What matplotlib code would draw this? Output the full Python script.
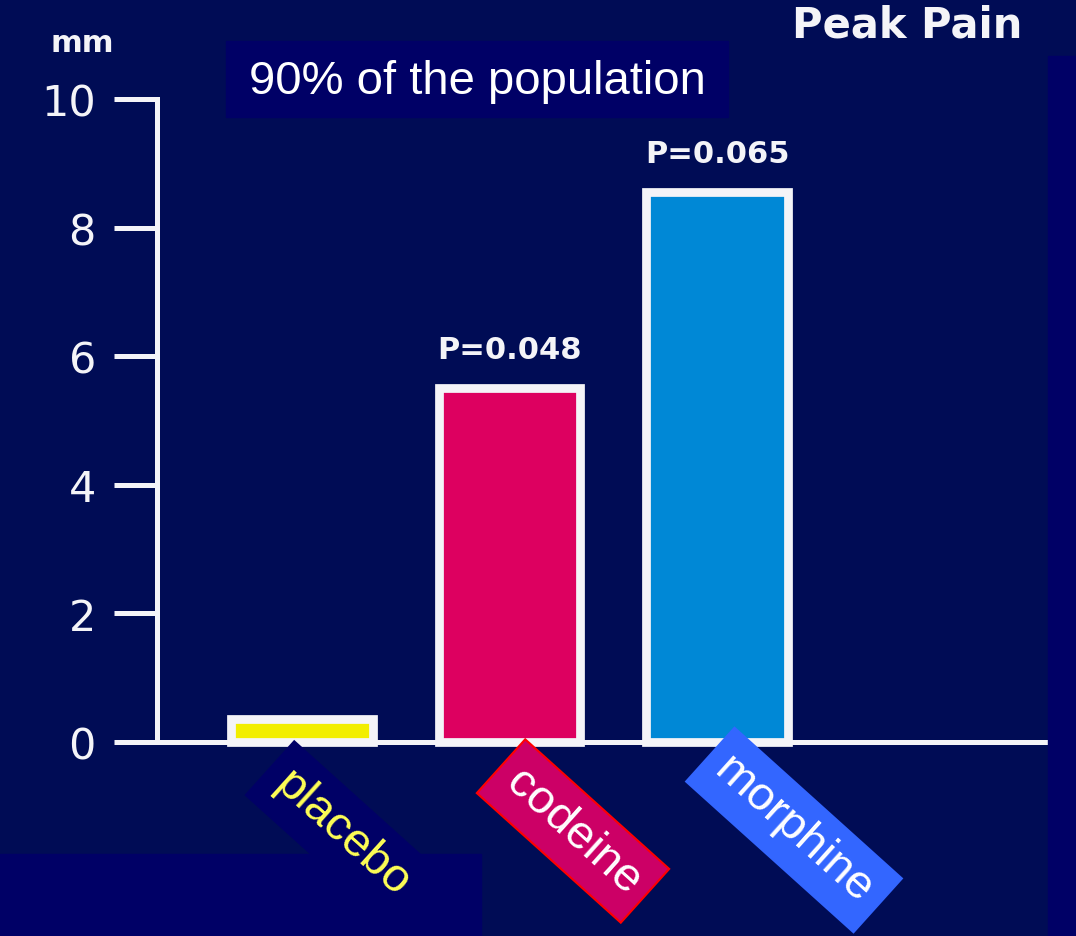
import matplotlib.pyplot as plt
from matplotlib.patches import Rectangle

# values (mm)
drugs = ["placebo", "codeine", "morphine"]
peak_pain = [0.35, 5.5, 8.55]
p_values = [None, "P=0.048", "P=0.065"]
yticks = [0, 2, 4, 6, 8, 10]

bg = "#000c55"
box_blue = "#000066"
bar_fill = ["#f2ee00", "#dd0060", "#0088d6"]
fg = "#f4f4f8"

W, H = 1076, 937
fig = plt.figure(figsize=(W / 100, H / 100), dpi=100, facecolor=bg)

# helper for pixel -> figure fraction
def fx(px):
    return px / W

def fy(py):
    return 1 - py / H

# plain rectangles in the background
fig.patches.append(Rectangle((fx(0), fy(937)), fx(481), fy(855) - fy(937),
                             transform=fig.transFigure, color=box_blue, zorder=0))
fig.patches.append(Rectangle((fx(1048), fy(937)), fx(28), fy(57) - fy(937),
                             transform=fig.transFigure, color=box_blue, zorder=0))

ax = fig.add_axes([fx(157), fy(743), fx(1048 - 157), fy(100) - fy(743)])
ax.set_facecolor("none")
x = list(range(len(drugs)))
bars = ax.bar(x, peak_pain, width=0.68, color=bar_fill, edgecolor=fg,
              linewidth=6.3, zorder=2, clip_on=False)

for xi, v, p in zip(x, peak_pain, p_values):
    if p:
        ax.text(xi, v + 0.6, p, ha="center", va="center", color=fg,
                fontsize=22, fontweight="bold", family="DejaVu Sans")

ax.set_xlim(-0.699, 3.595)
ax.set_ylim(0, 10)
ax.set_xticks([])
ax.set_yticks(yticks)
ax.set_yticklabels([str(t) for t in yticks], fontsize=31, color=fg,
                   family="DejaVu Sans")
ax.tick_params(axis="y", length=31, width=3.6, color=fg, pad=13, direction="out")
for s in ["top", "right"]:
    ax.spines[s].set_visible(False)
for s in ["left", "bottom"]:
    ax.spines[s].set_color(fg)
    ax.spines[s].set_linewidth(3.6)
    ax.spines[s].set_capstyle("projecting")
    ax.spines[s].set_zorder(3)

# headings
fig.text(fx(82), fy(44), "mm", ha="center", va="center", color=fg,
         fontsize=22, fontweight="bold", family="DejaVu Sans")
fig.text(fx(907), fy(25), "Peak Pain", ha="center", va="center", color=fg,
         fontsize=30, fontweight="bold", family="DejaVu Sans")
fig.patches.append(Rectangle((fx(226), fy(118)), fx(728 - 226), fy(42) - fy(118),
                             transform=fig.transFigure, color=box_blue, zorder=1))
fig.text(fx(477), fy(82), "90% of the population", ha="center", va="center",
         color="white", fontsize=34, family="Liberation Sans")

# rotated drug labels
label_pos = [(342, 834), (573, 832), (794, 831)]
label_text = ["#ffff55", "white", "white"]
label_face = [box_blue, "#cc0066", "#3366ff"]
label_edge = [box_blue, "#ff0000", "#3366ff"]
for name, (px, py), tc, fc, ec in zip(drugs, label_pos, label_text, label_face, label_edge):
    fig.text(fx(px), fy(py), name, ha="center", va="center", rotation=-42,
             rotation_mode="anchor", color=tc, fontsize=34, family="Liberation Sans",
             bbox=dict(boxstyle="square,pad=0.3", facecolor=fc, edgecolor=ec,
                       linewidth=1.5))

fig.savefig("out.png", dpi=100, facecolor=bg)
